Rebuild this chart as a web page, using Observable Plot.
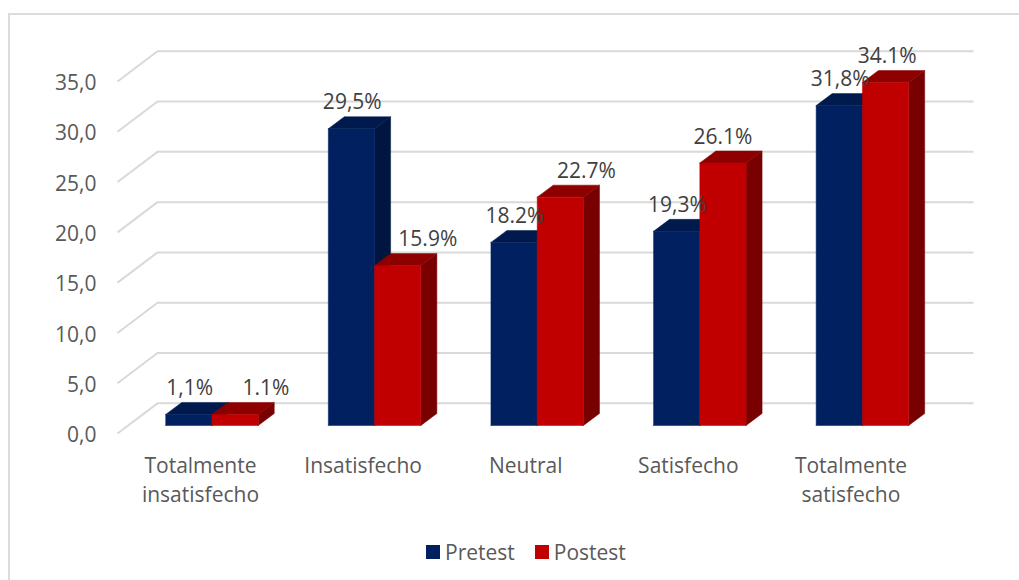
<!DOCTYPE html>
<html>
<head>
<meta charset="utf-8">
<script src="https://cdn.jsdelivr.net/npm/d3@7"></script>
<script src="https://cdn.jsdelivr.net/npm/@observablehq/plot@0.6"></script>
<style>
html,body{margin:0;padding:0;background:#fff;width:1019px;height:580px;overflow:hidden}
#frame{position:absolute;left:8px;top:13px;right:0;bottom:0;border-top:2px solid #dcdcdc;border-left:2px solid #dcdcdc}
#chart{position:absolute;left:0;top:0}
#legend{position:absolute;left:426px;top:538px;height:28px;display:flex;align-items:center;font:21px "Open Sans",sans-serif;color:#595959}
#legend i{display:inline-block;width:14px;height:14px;margin-right:5px}
#legend span{margin-right:20px;display:flex;align-items:center}
</style>
</head>
<body>
<div id="frame"></div>
<div id="chart"></div>
<div id="legend"></div>
<script>
const categories = ["Totalmente\ninsatisfecho", "Insatisfecho", "Neutral", "Satisfecho", "Totalmente\nsatisfecho"];
const pretest = [1.1, 29.5, 18.2, 19.3, 31.8];
const postest = [1.1, 15.9, 22.7, 26.1, 34.1];
const pretestLabels = ["1,1%", "29,5%", "18.2%", "19,3%", "31,8%"];
const postestLabels = ["1.1%", "15.9%", "22.7%", "26.1%", "34.1%"];
const yTicks = [0, 5, 10, 15, 20, 25, 30, 35];
const seriesNames = ["Pretest", "Postest"];

// Layout of the pseudo-3D scene, in scale units
const barW = 0.2845, depthX = 0.0984, depthY = 1.19;
const wallFrontX = -0.581, wallBackX = -0.335, wallEndX = 4.683;
const wallFrontY = -0.8, wallBackY = 2.2;
const postLabelShift = [0.19, 0.185, 0.16, 0, 0.01];

const faceColors = {
  "Pretest-front": "#002060", "Pretest-top": "#001A4D", "Pretest-side": "#00153F",
  "Postest-front": "#C00000", "Postest-top": "#8E0000", "Postest-side": "#780000"
};

const faces = [];
function addBar(name, i, l, v) {
  const r = l + barW;
  const add = (face, pts) => pts.forEach(([x, y]) => faces.push({id: `${name}${i}${face}`, face: `${name}-${face}`, x, y}));
  add("side", [[r, 0], [r + depthX, depthY], [r + depthX, v + depthY], [r, v], [r, 0]]);
  add("top", [[l, v], [r, v], [r + depthX, v + depthY], [l + depthX, v + depthY], [l, v]]);
  add("front", [[l, 0], [r, 0], [r, v], [l, v], [l, 0]]);
}
categories.forEach((c, i) => {
  addBar(seriesNames[0], i, i - barW, pretest[i]);
  addBar(seriesNames[1], i, i, postest[i]);
});

const grid = yTicks.flatMap(v => [
  {v, x: wallFrontX, y: v + wallFrontY},
  {v, x: wallBackX, y: v + wallBackY},
  {v, x: wallEndX, y: v + wallBackY}
]);

const labels = [
  ...pretest.map((v, i) => ({x: i - barW / 2 + 0.005, y: v, t: pretestLabels[i]})),
  ...postest.map((v, i) => ({x: i + barW / 2 + postLabelShift[i], y: v, t: postestLabels[i]}))
];

const fontFamily = '"Open Sans", sans-serif';
const chart = Plot.plot({
  width: 1019, height: 530,
  marginLeft: 117, marginRight: 46, marginTop: 22.6, marginBottom: 105,
  style: {background: "transparent", fontFamily},
  x: {domain: [wallFrontX, wallEndX]},
  y: {domain: [0, 40]},
  color: {domain: Object.keys(faceColors), range: Object.values(faceColors)},
  marks: [
    Plot.line(grid, {x: "x", y: "y", z: "v", stroke: "#D9D9D9", strokeWidth: 2, strokeLinecap: "butt"}),
    Plot.line(faces, {x: "x", y: "y", z: "id", fill: "face", stroke: "face", strokeWidth: 0.5}),
    Plot.axisY(yTicks, {
      anchor: "left", tickSize: 0, tickPadding: 21, dy: 10,
      tickFormat: v => v.toFixed(1).replace(".", ","),
      fontSize: 21, fill: "#595959", label: null
    }),
    Plot.axisX(categories.map((c, i) => i), {
      anchor: "bottom", tickSize: 0, tickPadding: 27, lineHeight: 1.37, dx: -11.5,
      tickFormat: i => categories[i],
      fontSize: 21, fill: "#595959", label: null
    }),
    Plot.text(labels, {x: "x", y: "y", text: "t", dy: -26, fontSize: 21, fill: "#404040"})
  ]
});
document.getElementById("chart").appendChild(chart);

const legend = document.getElementById("legend");
seriesNames.forEach(n => {
  const s = document.createElement("span");
  const k = document.createElement("i");
  k.style.background = faceColors[n + "-front"];
  s.appendChild(k);
  s.appendChild(document.createTextNode(n));
  legend.appendChild(s);
});
</script>
</body>
</html>
